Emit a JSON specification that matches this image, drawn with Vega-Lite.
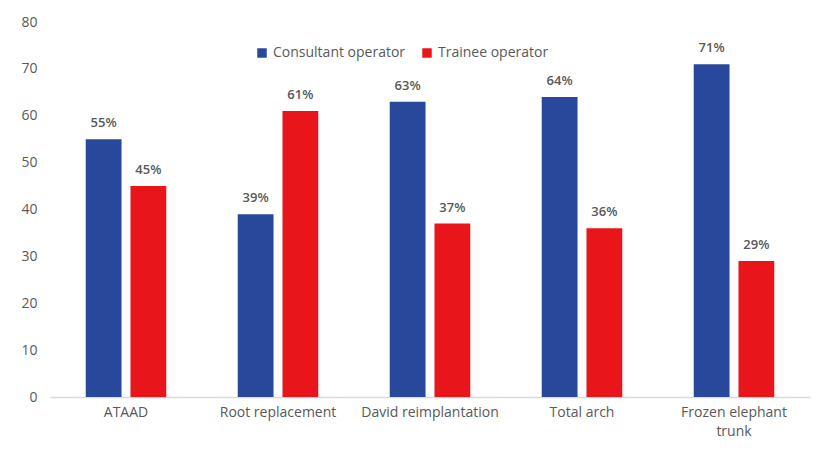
{
  "$schema": "https://vega.github.io/schema/vega-lite/v6.json",
  "width": 760,
  "height": 375,
  "autosize": {"type": "none"},
  "padding": {"left": 50, "top": 22, "right": 18, "bottom": 53},
  "background": "white",
  "config": {
    "view": {"stroke": null},
    "font": "Open Sans",
    "axis": {"labelFont": "Open Sans", "labelColor": "#595959"},
    "legend": {"labelFont": "Open Sans"}
  },
  "data": {
    "values": [
      {"procedure": "ATAAD", "operator": "Consultant operator", "value": 55, "label": "55%"},
      {"procedure": "ATAAD", "operator": "Trainee operator", "value": 45, "label": "45%"},
      {"procedure": "Root replacement", "operator": "Consultant operator", "value": 39, "label": "39%"},
      {"procedure": "Root replacement", "operator": "Trainee operator", "value": 61, "label": "61%"},
      {"procedure": "David reimplantation", "operator": "Consultant operator", "value": 63, "label": "63%"},
      {"procedure": "David reimplantation", "operator": "Trainee operator", "value": 37, "label": "37%"},
      {"procedure": "Total arch", "operator": "Consultant operator", "value": 64, "label": "64%"},
      {"procedure": "Total arch", "operator": "Trainee operator", "value": 36, "label": "36%"},
      {"procedure": "Frozen elephant trunk", "operator": "Consultant operator", "value": 71, "label": "71%"},
      {"procedure": "Frozen elephant trunk", "operator": "Trainee operator", "value": 29, "label": "29%"}
    ]
  },
  "encoding": {
    "x": {
      "field": "procedure",
      "type": "nominal",
      "sort": null,
      "scale": {"paddingInner": 0.47, "paddingOuter": 0.235},
      "axis": {
        "title": null,
        "labelAngle": 0,
        "ticks": false,
        "domainColor": "#d9d9d9",
        "domainWidth": 1.5,
        "labelPadding": 8,
        "labelFontSize": 14,
        "labelLineHeight": 19,
        "labelExpr": "datum.label == 'Frozen elephant trunk' ? ['Frozen elephant', 'trunk'] : datum.label"
      }
    },
    "xOffset": {"field": "operator", "type": "nominal", "sort": null, "scale": {"paddingInner": 0.2}},
    "y": {
      "field": "value",
      "type": "quantitative",
      "scale": {"domain": [0, 80]},
      "axis": {
        "title": null,
        "grid": false,
        "domain": false,
        "ticks": false,
        "tickCount": 8,
        "labelPadding": 13,
        "labelFontSize": 14
      }
    }
  },
  "layer": [
    {
      "mark": {"type": "bar"},
      "encoding": {
        "color": {
          "field": "operator",
          "type": "nominal",
          "sort": null,
          "scale": {"domain": ["Consultant operator", "Trainee operator"], "range": ["#28489b", "#e8161b"]},
          "legend": {
            "title": null,
            "orient": "none",
            "direction": "horizontal",
            "legendX": 205,
            "legendY": 24,
            "symbolType": "square",
            "symbolSize": 90,
            "labelFontSize": 14,
            "labelColor": "#595959",
            "columnPadding": 14,
            "labelOffset": 4
          }
        }
      }
    },
    {
      "mark": {"type": "text", "baseline": "bottom", "dy": -9, "fontSize": 13, "fontWeight": 600, "color": "#595959"},
      "encoding": {"text": {"field": "label"}}
    }
  ]
}
